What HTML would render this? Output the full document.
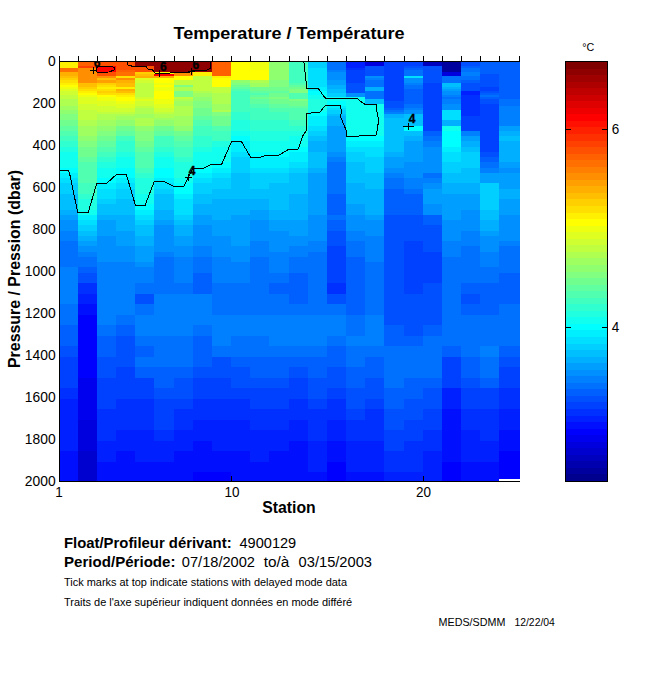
<!DOCTYPE html>
<html><head><meta charset="utf-8"><title>Temperature / Température</title>
<style>
html,body{margin:0;padding:0;background:#fff}
svg{display:block}
text{font-family:"Liberation Sans",sans-serif;fill:#000}
.b{font-weight:bold}
</style></head><body>
<svg width="650" height="680" viewBox="0 0 650 680">
<rect width="650" height="680" fill="#fff"/>
<g shape-rendering="crispEdges">
<rect x="60.0" y="62.00" width="18.0" height="6.10" fill="#ffef00"/>
<rect x="60.0" y="67.80" width="18.0" height="4.50" fill="#ff7000"/>
<rect x="60.0" y="72.00" width="18.0" height="4.50" fill="#ffaf00"/>
<rect x="60.0" y="76.20" width="18.0" height="2.40" fill="#ffbf00"/>
<rect x="60.0" y="78.30" width="18.0" height="2.40" fill="#ffcf00"/>
<rect x="60.0" y="80.40" width="18.0" height="2.40" fill="#ffdf00"/>
<rect x="60.0" y="82.50" width="18.0" height="2.40" fill="#ffef00"/>
<rect x="60.0" y="84.60" width="18.0" height="2.40" fill="#ffff00"/>
<rect x="60.0" y="86.70" width="18.0" height="2.40" fill="#efff10"/>
<rect x="60.0" y="88.80" width="18.0" height="2.40" fill="#dfff20"/>
<rect x="60.0" y="90.90" width="18.0" height="4.50" fill="#cfff30"/>
<rect x="60.0" y="95.10" width="18.0" height="4.50" fill="#bfff40"/>
<rect x="60.0" y="99.30" width="18.0" height="6.60" fill="#afff50"/>
<rect x="60.0" y="105.60" width="18.0" height="4.50" fill="#9fff60"/>
<rect x="60.0" y="109.80" width="18.0" height="4.50" fill="#8fff70"/>
<rect x="60.0" y="114.00" width="18.0" height="6.60" fill="#80ff80"/>
<rect x="60.0" y="120.30" width="18.0" height="5.55" fill="#70ff8f"/>
<rect x="60.0" y="125.55" width="18.0" height="5.55" fill="#60ff9f"/>
<rect x="60.0" y="130.80" width="18.0" height="5.55" fill="#50ffaf"/>
<rect x="60.0" y="136.05" width="18.0" height="5.55" fill="#40ffbf"/>
<rect x="60.0" y="141.30" width="18.0" height="5.55" fill="#30ffcf"/>
<rect x="60.0" y="146.55" width="18.0" height="5.55" fill="#20ffdf"/>
<rect x="60.0" y="151.80" width="18.0" height="16.05" fill="#10ffef"/>
<rect x="60.0" y="167.55" width="18.0" height="5.55" fill="#00ffff"/>
<rect x="60.0" y="172.80" width="18.0" height="5.55" fill="#00efff"/>
<rect x="60.0" y="178.05" width="18.0" height="5.55" fill="#00dfff"/>
<rect x="60.0" y="183.30" width="18.0" height="10.80" fill="#00cfff"/>
<rect x="60.0" y="193.80" width="18.0" height="16.05" fill="#00bfff"/>
<rect x="60.0" y="209.55" width="18.0" height="5.55" fill="#00afff"/>
<rect x="60.0" y="214.80" width="18.0" height="5.55" fill="#009fff"/>
<rect x="60.0" y="220.05" width="18.0" height="10.80" fill="#008fff"/>
<rect x="60.0" y="230.55" width="18.0" height="10.80" fill="#0080ff"/>
<rect x="60.0" y="241.05" width="18.0" height="26.55" fill="#0070ff"/>
<rect x="60.0" y="267.30" width="18.0" height="37.05" fill="#0080ff"/>
<rect x="60.0" y="304.05" width="18.0" height="21.30" fill="#0070ff"/>
<rect x="60.0" y="325.05" width="18.0" height="21.30" fill="#0060ff"/>
<rect x="60.0" y="346.05" width="18.0" height="10.80" fill="#0050ff"/>
<rect x="60.0" y="356.55" width="18.0" height="31.80" fill="#0040ff"/>
<rect x="60.0" y="388.05" width="18.0" height="10.80" fill="#0030ff"/>
<rect x="60.0" y="398.55" width="18.0" height="52.80" fill="#0020ff"/>
<rect x="60.0" y="451.05" width="18.0" height="30.25" fill="#0010ff"/>
<rect x="78.0" y="62.00" width="19.0" height="4.00" fill="#ff6000"/>
<rect x="78.0" y="65.70" width="19.0" height="2.40" fill="#ff4000"/>
<rect x="78.0" y="67.80" width="19.0" height="15.00" fill="#ff8f00"/>
<rect x="78.0" y="82.50" width="19.0" height="4.50" fill="#ffbf00"/>
<rect x="78.0" y="86.70" width="19.0" height="2.40" fill="#ffcf00"/>
<rect x="78.0" y="88.80" width="19.0" height="2.40" fill="#ffdf00"/>
<rect x="78.0" y="90.90" width="19.0" height="2.40" fill="#ffef00"/>
<rect x="78.0" y="93.00" width="19.0" height="2.40" fill="#ffff00"/>
<rect x="78.0" y="95.10" width="19.0" height="2.40" fill="#efff10"/>
<rect x="78.0" y="97.20" width="19.0" height="6.60" fill="#dfff20"/>
<rect x="78.0" y="103.50" width="19.0" height="6.60" fill="#cfff30"/>
<rect x="78.0" y="109.80" width="19.0" height="10.80" fill="#bfff40"/>
<rect x="78.0" y="120.30" width="19.0" height="5.55" fill="#afff50"/>
<rect x="78.0" y="125.55" width="19.0" height="10.80" fill="#9fff60"/>
<rect x="78.0" y="136.05" width="19.0" height="5.55" fill="#8fff70"/>
<rect x="78.0" y="141.30" width="19.0" height="5.55" fill="#80ff80"/>
<rect x="78.0" y="146.55" width="19.0" height="10.80" fill="#70ff8f"/>
<rect x="78.0" y="157.05" width="19.0" height="5.55" fill="#60ff9f"/>
<rect x="78.0" y="162.30" width="19.0" height="21.30" fill="#50ffaf"/>
<rect x="78.0" y="183.30" width="19.0" height="10.80" fill="#40ffbf"/>
<rect x="78.0" y="193.80" width="19.0" height="5.55" fill="#30ffcf"/>
<rect x="78.0" y="199.05" width="19.0" height="10.80" fill="#20ffdf"/>
<rect x="78.0" y="209.55" width="19.0" height="5.55" fill="#10ffef"/>
<rect x="78.0" y="214.80" width="19.0" height="5.55" fill="#00efff"/>
<rect x="78.0" y="220.05" width="19.0" height="5.55" fill="#00dfff"/>
<rect x="78.0" y="225.30" width="19.0" height="5.55" fill="#00cfff"/>
<rect x="78.0" y="230.55" width="19.0" height="5.55" fill="#00bfff"/>
<rect x="78.0" y="235.80" width="19.0" height="5.55" fill="#00afff"/>
<rect x="78.0" y="241.05" width="19.0" height="5.55" fill="#009fff"/>
<rect x="78.0" y="246.30" width="19.0" height="5.55" fill="#008fff"/>
<rect x="78.0" y="251.55" width="19.0" height="5.55" fill="#0080ff"/>
<rect x="78.0" y="256.80" width="19.0" height="10.80" fill="#0070ff"/>
<rect x="78.0" y="267.30" width="19.0" height="5.55" fill="#0060ff"/>
<rect x="78.0" y="272.55" width="19.0" height="10.80" fill="#0050ff"/>
<rect x="78.0" y="283.05" width="19.0" height="10.80" fill="#0030ff"/>
<rect x="78.0" y="293.55" width="19.0" height="10.80" fill="#0020ff"/>
<rect x="78.0" y="304.05" width="19.0" height="10.80" fill="#0010ff"/>
<rect x="78.0" y="314.55" width="19.0" height="63.30" fill="#0000ff"/>
<rect x="78.0" y="377.55" width="19.0" height="42.30" fill="#0000ef"/>
<rect x="78.0" y="419.55" width="19.0" height="31.80" fill="#0000df"/>
<rect x="78.0" y="451.05" width="19.0" height="30.25" fill="#0000cf"/>
<rect x="97.0" y="62.00" width="19.0" height="4.00" fill="#ff5000"/>
<rect x="97.0" y="65.70" width="19.0" height="6.60" fill="#ff0000"/>
<rect x="97.0" y="72.00" width="19.0" height="4.50" fill="#ff5000"/>
<rect x="97.0" y="76.20" width="19.0" height="2.40" fill="#ff8f00"/>
<rect x="97.0" y="78.30" width="19.0" height="2.40" fill="#ffbf00"/>
<rect x="97.0" y="80.40" width="19.0" height="2.40" fill="#ff9f00"/>
<rect x="97.0" y="82.50" width="19.0" height="2.40" fill="#ffcf00"/>
<rect x="97.0" y="84.60" width="19.0" height="2.40" fill="#ffdf00"/>
<rect x="97.0" y="86.70" width="19.0" height="2.40" fill="#ffef00"/>
<rect x="97.0" y="88.80" width="19.0" height="2.40" fill="#ffdf00"/>
<rect x="97.0" y="90.90" width="19.0" height="2.40" fill="#ffcf00"/>
<rect x="97.0" y="93.00" width="19.0" height="2.40" fill="#ffdf00"/>
<rect x="97.0" y="95.10" width="19.0" height="2.40" fill="#ffff00"/>
<rect x="97.0" y="97.20" width="19.0" height="4.50" fill="#efff10"/>
<rect x="97.0" y="101.40" width="19.0" height="4.50" fill="#dfff20"/>
<rect x="97.0" y="105.60" width="19.0" height="6.60" fill="#cfff30"/>
<rect x="97.0" y="111.90" width="19.0" height="2.40" fill="#bfff40"/>
<rect x="97.0" y="114.00" width="19.0" height="6.60" fill="#afff50"/>
<rect x="97.0" y="120.30" width="19.0" height="5.55" fill="#9fff60"/>
<rect x="97.0" y="125.55" width="19.0" height="5.55" fill="#8fff70"/>
<rect x="97.0" y="130.80" width="19.0" height="5.55" fill="#80ff80"/>
<rect x="97.0" y="136.05" width="19.0" height="5.55" fill="#70ff8f"/>
<rect x="97.0" y="141.30" width="19.0" height="5.55" fill="#60ff9f"/>
<rect x="97.0" y="146.55" width="19.0" height="5.55" fill="#50ffaf"/>
<rect x="97.0" y="151.80" width="19.0" height="5.55" fill="#40ffbf"/>
<rect x="97.0" y="157.05" width="19.0" height="5.55" fill="#30ffcf"/>
<rect x="97.0" y="162.30" width="19.0" height="5.55" fill="#20ffdf"/>
<rect x="97.0" y="167.55" width="19.0" height="10.80" fill="#10ffef"/>
<rect x="97.0" y="178.05" width="19.0" height="5.55" fill="#00ffff"/>
<rect x="97.0" y="183.30" width="19.0" height="5.55" fill="#00efff"/>
<rect x="97.0" y="188.55" width="19.0" height="10.80" fill="#00dfff"/>
<rect x="97.0" y="199.05" width="19.0" height="5.55" fill="#00cfff"/>
<rect x="97.0" y="204.30" width="19.0" height="10.80" fill="#00bfff"/>
<rect x="97.0" y="214.80" width="19.0" height="5.55" fill="#00afff"/>
<rect x="97.0" y="220.05" width="19.0" height="16.05" fill="#009fff"/>
<rect x="97.0" y="235.80" width="19.0" height="26.55" fill="#008fff"/>
<rect x="97.0" y="262.05" width="19.0" height="63.30" fill="#0080ff"/>
<rect x="97.0" y="325.05" width="19.0" height="10.80" fill="#0070ff"/>
<rect x="97.0" y="335.55" width="19.0" height="21.30" fill="#0060ff"/>
<rect x="97.0" y="356.55" width="19.0" height="21.30" fill="#0050ff"/>
<rect x="97.0" y="377.55" width="19.0" height="31.80" fill="#0040ff"/>
<rect x="97.0" y="409.05" width="19.0" height="31.80" fill="#0030ff"/>
<rect x="97.0" y="440.55" width="19.0" height="21.30" fill="#0020ff"/>
<rect x="97.0" y="461.55" width="19.0" height="19.75" fill="#0010ff"/>
<rect x="116.0" y="62.00" width="19.0" height="8.20" fill="#ff5000"/>
<rect x="116.0" y="69.90" width="19.0" height="2.40" fill="#ff6000"/>
<rect x="116.0" y="72.00" width="19.0" height="4.50" fill="#ff7000"/>
<rect x="116.0" y="76.20" width="19.0" height="2.40" fill="#ffdf00"/>
<rect x="116.0" y="78.30" width="19.0" height="2.40" fill="#ff8f00"/>
<rect x="116.0" y="80.40" width="19.0" height="2.40" fill="#ffaf00"/>
<rect x="116.0" y="82.50" width="19.0" height="4.50" fill="#ffbf00"/>
<rect x="116.0" y="86.70" width="19.0" height="2.40" fill="#ffef00"/>
<rect x="116.0" y="88.80" width="19.0" height="2.40" fill="#ffaf00"/>
<rect x="116.0" y="90.90" width="19.0" height="2.40" fill="#ffbf00"/>
<rect x="116.0" y="93.00" width="19.0" height="2.40" fill="#ffdf00"/>
<rect x="116.0" y="95.10" width="19.0" height="2.40" fill="#ffef00"/>
<rect x="116.0" y="97.20" width="19.0" height="4.50" fill="#ffff00"/>
<rect x="116.0" y="101.40" width="19.0" height="2.40" fill="#efff10"/>
<rect x="116.0" y="103.50" width="19.0" height="4.50" fill="#dfff20"/>
<rect x="116.0" y="107.70" width="19.0" height="4.50" fill="#cfff30"/>
<rect x="116.0" y="111.90" width="19.0" height="2.40" fill="#bfff40"/>
<rect x="116.0" y="114.00" width="19.0" height="2.40" fill="#afff50"/>
<rect x="116.0" y="116.10" width="19.0" height="4.50" fill="#9fff60"/>
<rect x="116.0" y="120.30" width="19.0" height="5.55" fill="#8fff70"/>
<rect x="116.0" y="125.55" width="19.0" height="5.55" fill="#70ff8f"/>
<rect x="116.0" y="130.80" width="19.0" height="5.55" fill="#60ff9f"/>
<rect x="116.0" y="136.05" width="19.0" height="5.55" fill="#40ffbf"/>
<rect x="116.0" y="141.30" width="19.0" height="10.80" fill="#30ffcf"/>
<rect x="116.0" y="151.80" width="19.0" height="5.55" fill="#20ffdf"/>
<rect x="116.0" y="157.05" width="19.0" height="10.80" fill="#10ffef"/>
<rect x="116.0" y="167.55" width="19.0" height="10.80" fill="#00ffff"/>
<rect x="116.0" y="178.05" width="19.0" height="5.55" fill="#00efff"/>
<rect x="116.0" y="183.30" width="19.0" height="5.55" fill="#00dfff"/>
<rect x="116.0" y="188.55" width="19.0" height="10.80" fill="#00cfff"/>
<rect x="116.0" y="199.05" width="19.0" height="16.05" fill="#00bfff"/>
<rect x="116.0" y="214.80" width="19.0" height="16.05" fill="#00afff"/>
<rect x="116.0" y="230.55" width="19.0" height="16.05" fill="#009fff"/>
<rect x="116.0" y="246.30" width="19.0" height="16.05" fill="#008fff"/>
<rect x="116.0" y="262.05" width="19.0" height="52.80" fill="#0080ff"/>
<rect x="116.0" y="314.55" width="19.0" height="10.80" fill="#0070ff"/>
<rect x="116.0" y="325.05" width="19.0" height="10.80" fill="#0060ff"/>
<rect x="116.0" y="335.55" width="19.0" height="31.80" fill="#0050ff"/>
<rect x="116.0" y="367.05" width="19.0" height="31.80" fill="#0040ff"/>
<rect x="116.0" y="398.55" width="19.0" height="31.80" fill="#0030ff"/>
<rect x="116.0" y="430.05" width="19.0" height="21.30" fill="#0020ff"/>
<rect x="116.0" y="451.05" width="19.0" height="30.25" fill="#0010ff"/>
<rect x="135.0" y="62.00" width="19.0" height="4.00" fill="#8f0000"/>
<rect x="135.0" y="65.70" width="19.0" height="6.60" fill="#ff5000"/>
<rect x="135.0" y="72.00" width="19.0" height="2.40" fill="#ffcf00"/>
<rect x="135.0" y="74.10" width="19.0" height="2.40" fill="#ffbf00"/>
<rect x="135.0" y="76.20" width="19.0" height="2.40" fill="#ffaf00"/>
<rect x="135.0" y="78.30" width="19.0" height="2.40" fill="#dfff20"/>
<rect x="135.0" y="80.40" width="19.0" height="2.40" fill="#cfff30"/>
<rect x="135.0" y="82.50" width="19.0" height="15.00" fill="#bfff40"/>
<rect x="135.0" y="97.20" width="19.0" height="2.40" fill="#cfff30"/>
<rect x="135.0" y="99.30" width="19.0" height="2.40" fill="#dfff20"/>
<rect x="135.0" y="101.40" width="19.0" height="4.50" fill="#cfff30"/>
<rect x="135.0" y="105.60" width="19.0" height="2.40" fill="#bfff40"/>
<rect x="135.0" y="107.70" width="19.0" height="6.60" fill="#afff50"/>
<rect x="135.0" y="114.00" width="19.0" height="4.50" fill="#9fff60"/>
<rect x="135.0" y="118.20" width="19.0" height="7.65" fill="#afff50"/>
<rect x="135.0" y="125.55" width="19.0" height="5.55" fill="#8fff70"/>
<rect x="135.0" y="130.80" width="19.0" height="10.80" fill="#80ff80"/>
<rect x="135.0" y="141.30" width="19.0" height="5.55" fill="#70ff8f"/>
<rect x="135.0" y="146.55" width="19.0" height="5.55" fill="#60ff9f"/>
<rect x="135.0" y="151.80" width="19.0" height="16.05" fill="#50ffaf"/>
<rect x="135.0" y="167.55" width="19.0" height="5.55" fill="#40ffbf"/>
<rect x="135.0" y="172.80" width="19.0" height="5.55" fill="#30ffcf"/>
<rect x="135.0" y="178.05" width="19.0" height="16.05" fill="#20ffdf"/>
<rect x="135.0" y="193.80" width="19.0" height="10.80" fill="#10ffef"/>
<rect x="135.0" y="204.30" width="19.0" height="5.55" fill="#00ffff"/>
<rect x="135.0" y="209.55" width="19.0" height="5.55" fill="#00efff"/>
<rect x="135.0" y="214.80" width="19.0" height="5.55" fill="#00dfff"/>
<rect x="135.0" y="220.05" width="19.0" height="5.55" fill="#00cfff"/>
<rect x="135.0" y="225.30" width="19.0" height="10.80" fill="#00bfff"/>
<rect x="135.0" y="235.80" width="19.0" height="10.80" fill="#00afff"/>
<rect x="135.0" y="246.30" width="19.0" height="16.05" fill="#009fff"/>
<rect x="135.0" y="262.05" width="19.0" height="5.55" fill="#008fff"/>
<rect x="135.0" y="267.30" width="19.0" height="16.05" fill="#0080ff"/>
<rect x="135.0" y="283.05" width="19.0" height="10.80" fill="#0070ff"/>
<rect x="135.0" y="293.55" width="19.0" height="10.80" fill="#0050ff"/>
<rect x="135.0" y="304.05" width="19.0" height="10.80" fill="#0070ff"/>
<rect x="135.0" y="314.55" width="19.0" height="21.30" fill="#0080ff"/>
<rect x="135.0" y="335.55" width="19.0" height="10.80" fill="#0070ff"/>
<rect x="135.0" y="346.05" width="19.0" height="10.80" fill="#0060ff"/>
<rect x="135.0" y="356.55" width="19.0" height="10.80" fill="#0070ff"/>
<rect x="135.0" y="367.05" width="19.0" height="10.80" fill="#0060ff"/>
<rect x="135.0" y="377.55" width="19.0" height="21.30" fill="#0040ff"/>
<rect x="135.0" y="398.55" width="19.0" height="31.80" fill="#0030ff"/>
<rect x="135.0" y="430.05" width="19.0" height="31.80" fill="#0020ff"/>
<rect x="135.0" y="461.55" width="19.0" height="19.75" fill="#0010ff"/>
<rect x="154.0" y="62.00" width="20.0" height="10.30" fill="#8f0000"/>
<rect x="154.0" y="72.00" width="20.0" height="2.40" fill="#ffff00"/>
<rect x="154.0" y="74.10" width="20.0" height="2.40" fill="#ff0000"/>
<rect x="154.0" y="76.20" width="20.0" height="2.40" fill="#ffaf00"/>
<rect x="154.0" y="78.30" width="20.0" height="4.50" fill="#ffff00"/>
<rect x="154.0" y="82.50" width="20.0" height="2.40" fill="#efff10"/>
<rect x="154.0" y="84.60" width="20.0" height="2.40" fill="#ffff00"/>
<rect x="154.0" y="86.70" width="20.0" height="4.50" fill="#efff10"/>
<rect x="154.0" y="90.90" width="20.0" height="8.70" fill="#ffff00"/>
<rect x="154.0" y="99.30" width="20.0" height="4.50" fill="#efff10"/>
<rect x="154.0" y="103.50" width="20.0" height="4.50" fill="#dfff20"/>
<rect x="154.0" y="107.70" width="20.0" height="4.50" fill="#cfff30"/>
<rect x="154.0" y="111.90" width="20.0" height="2.40" fill="#bfff40"/>
<rect x="154.0" y="114.00" width="20.0" height="4.50" fill="#afff50"/>
<rect x="154.0" y="118.20" width="20.0" height="2.40" fill="#9fff60"/>
<rect x="154.0" y="120.30" width="20.0" height="5.55" fill="#8fff70"/>
<rect x="154.0" y="125.55" width="20.0" height="5.55" fill="#70ff8f"/>
<rect x="154.0" y="130.80" width="20.0" height="5.55" fill="#60ff9f"/>
<rect x="154.0" y="136.05" width="20.0" height="10.80" fill="#40ffbf"/>
<rect x="154.0" y="146.55" width="20.0" height="5.55" fill="#30ffcf"/>
<rect x="154.0" y="151.80" width="20.0" height="5.55" fill="#20ffdf"/>
<rect x="154.0" y="157.05" width="20.0" height="10.80" fill="#10ffef"/>
<rect x="154.0" y="167.55" width="20.0" height="10.80" fill="#00ffff"/>
<rect x="154.0" y="178.05" width="20.0" height="5.55" fill="#00efff"/>
<rect x="154.0" y="183.30" width="20.0" height="5.55" fill="#00dfff"/>
<rect x="154.0" y="188.55" width="20.0" height="5.55" fill="#00cfff"/>
<rect x="154.0" y="193.80" width="20.0" height="16.05" fill="#00bfff"/>
<rect x="154.0" y="209.55" width="20.0" height="10.80" fill="#00afff"/>
<rect x="154.0" y="220.05" width="20.0" height="5.55" fill="#009fff"/>
<rect x="154.0" y="225.30" width="20.0" height="26.55" fill="#008fff"/>
<rect x="154.0" y="251.55" width="20.0" height="5.55" fill="#0080ff"/>
<rect x="154.0" y="256.80" width="20.0" height="37.05" fill="#0070ff"/>
<rect x="154.0" y="293.55" width="20.0" height="42.30" fill="#0080ff"/>
<rect x="154.0" y="335.55" width="20.0" height="31.80" fill="#0070ff"/>
<rect x="154.0" y="367.05" width="20.0" height="21.30" fill="#0060ff"/>
<rect x="154.0" y="388.05" width="20.0" height="10.80" fill="#0050ff"/>
<rect x="154.0" y="398.55" width="20.0" height="31.80" fill="#0040ff"/>
<rect x="154.0" y="430.05" width="20.0" height="10.80" fill="#0030ff"/>
<rect x="154.0" y="440.55" width="20.0" height="21.30" fill="#0020ff"/>
<rect x="154.0" y="461.55" width="20.0" height="19.75" fill="#0010ff"/>
<rect x="174.0" y="62.00" width="19.0" height="10.30" fill="#8f0000"/>
<rect x="174.0" y="72.00" width="19.0" height="4.50" fill="#ff8f00"/>
<rect x="174.0" y="76.20" width="19.0" height="4.50" fill="#ffff00"/>
<rect x="174.0" y="80.40" width="19.0" height="4.50" fill="#bfff40"/>
<rect x="174.0" y="84.60" width="19.0" height="2.40" fill="#80ff80"/>
<rect x="174.0" y="86.70" width="19.0" height="4.50" fill="#afff50"/>
<rect x="174.0" y="90.90" width="19.0" height="6.60" fill="#80ff80"/>
<rect x="174.0" y="97.20" width="19.0" height="2.40" fill="#bfff40"/>
<rect x="174.0" y="99.30" width="19.0" height="2.40" fill="#afff50"/>
<rect x="174.0" y="101.40" width="19.0" height="4.50" fill="#9fff60"/>
<rect x="174.0" y="105.60" width="19.0" height="10.80" fill="#afff50"/>
<rect x="174.0" y="116.10" width="19.0" height="9.75" fill="#9fff60"/>
<rect x="174.0" y="125.55" width="19.0" height="5.55" fill="#8fff70"/>
<rect x="174.0" y="130.80" width="19.0" height="5.55" fill="#70ff8f"/>
<rect x="174.0" y="136.05" width="19.0" height="5.55" fill="#60ff9f"/>
<rect x="174.0" y="141.30" width="19.0" height="5.55" fill="#50ffaf"/>
<rect x="174.0" y="146.55" width="19.0" height="10.80" fill="#40ffbf"/>
<rect x="174.0" y="157.05" width="19.0" height="5.55" fill="#30ffcf"/>
<rect x="174.0" y="162.30" width="19.0" height="16.05" fill="#20ffdf"/>
<rect x="174.0" y="178.05" width="19.0" height="5.55" fill="#10ffef"/>
<rect x="174.0" y="183.30" width="19.0" height="10.80" fill="#00ffff"/>
<rect x="174.0" y="193.80" width="19.0" height="5.55" fill="#00efff"/>
<rect x="174.0" y="199.05" width="19.0" height="16.05" fill="#00dfff"/>
<rect x="174.0" y="214.80" width="19.0" height="5.55" fill="#00cfff"/>
<rect x="174.0" y="220.05" width="19.0" height="5.55" fill="#00bfff"/>
<rect x="174.0" y="225.30" width="19.0" height="10.80" fill="#00afff"/>
<rect x="174.0" y="235.80" width="19.0" height="10.80" fill="#009fff"/>
<rect x="174.0" y="246.30" width="19.0" height="10.80" fill="#008fff"/>
<rect x="174.0" y="256.80" width="19.0" height="26.55" fill="#0080ff"/>
<rect x="174.0" y="283.05" width="19.0" height="10.80" fill="#0070ff"/>
<rect x="174.0" y="293.55" width="19.0" height="42.30" fill="#0080ff"/>
<rect x="174.0" y="335.55" width="19.0" height="31.80" fill="#0070ff"/>
<rect x="174.0" y="367.05" width="19.0" height="10.80" fill="#0060ff"/>
<rect x="174.0" y="377.55" width="19.0" height="21.30" fill="#0050ff"/>
<rect x="174.0" y="398.55" width="19.0" height="10.80" fill="#0040ff"/>
<rect x="174.0" y="409.05" width="19.0" height="21.30" fill="#0030ff"/>
<rect x="174.0" y="430.05" width="19.0" height="21.30" fill="#0020ff"/>
<rect x="174.0" y="451.05" width="19.0" height="30.25" fill="#0010ff"/>
<rect x="193.0" y="62.00" width="19.0" height="10.30" fill="#8f0000"/>
<rect x="193.0" y="72.00" width="19.0" height="4.50" fill="#ffef00"/>
<rect x="193.0" y="76.20" width="19.0" height="15.00" fill="#bfff40"/>
<rect x="193.0" y="90.90" width="19.0" height="2.40" fill="#afff50"/>
<rect x="193.0" y="93.00" width="19.0" height="4.50" fill="#9fff60"/>
<rect x="193.0" y="97.20" width="19.0" height="4.50" fill="#8fff70"/>
<rect x="193.0" y="101.40" width="19.0" height="6.60" fill="#80ff80"/>
<rect x="193.0" y="107.70" width="19.0" height="8.70" fill="#70ff8f"/>
<rect x="193.0" y="116.10" width="19.0" height="4.50" fill="#60ff9f"/>
<rect x="193.0" y="120.30" width="19.0" height="5.55" fill="#50ffaf"/>
<rect x="193.0" y="125.55" width="19.0" height="10.80" fill="#40ffbf"/>
<rect x="193.0" y="136.05" width="19.0" height="10.80" fill="#30ffcf"/>
<rect x="193.0" y="146.55" width="19.0" height="5.55" fill="#20ffdf"/>
<rect x="193.0" y="151.80" width="19.0" height="16.05" fill="#10ffef"/>
<rect x="193.0" y="167.55" width="19.0" height="5.55" fill="#00ffff"/>
<rect x="193.0" y="172.80" width="19.0" height="5.55" fill="#00efff"/>
<rect x="193.0" y="178.05" width="19.0" height="5.55" fill="#00dfff"/>
<rect x="193.0" y="183.30" width="19.0" height="10.80" fill="#00cfff"/>
<rect x="193.0" y="193.80" width="19.0" height="10.80" fill="#00bfff"/>
<rect x="193.0" y="204.30" width="19.0" height="10.80" fill="#00afff"/>
<rect x="193.0" y="214.80" width="19.0" height="10.80" fill="#009fff"/>
<rect x="193.0" y="225.30" width="19.0" height="21.30" fill="#008fff"/>
<rect x="193.0" y="246.30" width="19.0" height="10.80" fill="#0080ff"/>
<rect x="193.0" y="256.80" width="19.0" height="16.05" fill="#0070ff"/>
<rect x="193.0" y="272.55" width="19.0" height="21.30" fill="#0060ff"/>
<rect x="193.0" y="293.55" width="19.0" height="31.80" fill="#0080ff"/>
<rect x="193.0" y="325.05" width="19.0" height="10.80" fill="#0070ff"/>
<rect x="193.0" y="335.55" width="19.0" height="31.80" fill="#0060ff"/>
<rect x="193.0" y="367.05" width="19.0" height="10.80" fill="#0050ff"/>
<rect x="193.0" y="377.55" width="19.0" height="21.30" fill="#0040ff"/>
<rect x="193.0" y="398.55" width="19.0" height="21.30" fill="#0030ff"/>
<rect x="193.0" y="419.55" width="19.0" height="21.30" fill="#0020ff"/>
<rect x="193.0" y="440.55" width="19.0" height="31.80" fill="#0010ff"/>
<rect x="193.0" y="472.05" width="19.0" height="9.25" fill="#0000ff"/>
<rect x="212.0" y="62.00" width="19.0" height="14.50" fill="#ff6000"/>
<rect x="212.0" y="76.20" width="19.0" height="2.40" fill="#ffef00"/>
<rect x="212.0" y="78.30" width="19.0" height="8.70" fill="#ffff00"/>
<rect x="212.0" y="86.70" width="19.0" height="6.60" fill="#bfff40"/>
<rect x="212.0" y="93.00" width="19.0" height="10.80" fill="#afff50"/>
<rect x="212.0" y="103.50" width="19.0" height="6.60" fill="#9fff60"/>
<rect x="212.0" y="109.80" width="19.0" height="2.40" fill="#afff50"/>
<rect x="212.0" y="111.90" width="19.0" height="4.50" fill="#80ff80"/>
<rect x="212.0" y="116.10" width="19.0" height="9.75" fill="#70ff8f"/>
<rect x="212.0" y="125.55" width="19.0" height="5.55" fill="#50ffaf"/>
<rect x="212.0" y="130.80" width="19.0" height="10.80" fill="#40ffbf"/>
<rect x="212.0" y="141.30" width="19.0" height="5.55" fill="#20ffdf"/>
<rect x="212.0" y="146.55" width="19.0" height="16.05" fill="#10ffef"/>
<rect x="212.0" y="162.30" width="19.0" height="5.55" fill="#00ffff"/>
<rect x="212.0" y="167.55" width="19.0" height="5.55" fill="#00efff"/>
<rect x="212.0" y="172.80" width="19.0" height="5.55" fill="#00dfff"/>
<rect x="212.0" y="178.05" width="19.0" height="10.80" fill="#00cfff"/>
<rect x="212.0" y="188.55" width="19.0" height="10.80" fill="#00bfff"/>
<rect x="212.0" y="199.05" width="19.0" height="21.30" fill="#00afff"/>
<rect x="212.0" y="220.05" width="19.0" height="16.05" fill="#009fff"/>
<rect x="212.0" y="235.80" width="19.0" height="21.30" fill="#008fff"/>
<rect x="212.0" y="256.80" width="19.0" height="26.55" fill="#0080ff"/>
<rect x="212.0" y="283.05" width="19.0" height="31.80" fill="#0070ff"/>
<rect x="212.0" y="314.55" width="19.0" height="31.80" fill="#0080ff"/>
<rect x="212.0" y="346.05" width="19.0" height="10.80" fill="#0070ff"/>
<rect x="212.0" y="356.55" width="19.0" height="21.30" fill="#0050ff"/>
<rect x="212.0" y="377.55" width="19.0" height="21.30" fill="#0040ff"/>
<rect x="212.0" y="398.55" width="19.0" height="21.30" fill="#0030ff"/>
<rect x="212.0" y="419.55" width="19.0" height="31.80" fill="#0020ff"/>
<rect x="212.0" y="451.05" width="19.0" height="21.30" fill="#0010ff"/>
<rect x="212.0" y="472.05" width="19.0" height="9.25" fill="#0000ff"/>
<rect x="231.0" y="62.00" width="19.0" height="18.70" fill="#ffff00"/>
<rect x="231.0" y="80.40" width="19.0" height="2.40" fill="#8fff70"/>
<rect x="231.0" y="82.50" width="19.0" height="2.40" fill="#80ff80"/>
<rect x="231.0" y="84.60" width="19.0" height="2.40" fill="#70ff8f"/>
<rect x="231.0" y="86.70" width="19.0" height="2.40" fill="#60ff9f"/>
<rect x="231.0" y="88.80" width="19.0" height="2.40" fill="#50ffaf"/>
<rect x="231.0" y="90.90" width="19.0" height="21.30" fill="#40ffbf"/>
<rect x="231.0" y="111.90" width="19.0" height="8.70" fill="#30ffcf"/>
<rect x="231.0" y="120.30" width="19.0" height="10.80" fill="#20ffdf"/>
<rect x="231.0" y="130.80" width="19.0" height="5.55" fill="#10ffef"/>
<rect x="231.0" y="136.05" width="19.0" height="5.55" fill="#00ffff"/>
<rect x="231.0" y="141.30" width="19.0" height="10.80" fill="#00efff"/>
<rect x="231.0" y="151.80" width="19.0" height="5.55" fill="#00dfff"/>
<rect x="231.0" y="157.05" width="19.0" height="16.05" fill="#00cfff"/>
<rect x="231.0" y="172.80" width="19.0" height="26.55" fill="#00bfff"/>
<rect x="231.0" y="199.05" width="19.0" height="16.05" fill="#00afff"/>
<rect x="231.0" y="214.80" width="19.0" height="31.80" fill="#009fff"/>
<rect x="231.0" y="246.30" width="19.0" height="16.05" fill="#008fff"/>
<rect x="231.0" y="262.05" width="19.0" height="21.30" fill="#0080ff"/>
<rect x="231.0" y="283.05" width="19.0" height="31.80" fill="#0070ff"/>
<rect x="231.0" y="314.55" width="19.0" height="21.30" fill="#0080ff"/>
<rect x="231.0" y="335.55" width="19.0" height="21.30" fill="#0070ff"/>
<rect x="231.0" y="356.55" width="19.0" height="10.80" fill="#0060ff"/>
<rect x="231.0" y="367.05" width="19.0" height="21.30" fill="#0050ff"/>
<rect x="231.0" y="388.05" width="19.0" height="10.80" fill="#0040ff"/>
<rect x="231.0" y="398.55" width="19.0" height="21.30" fill="#0030ff"/>
<rect x="231.0" y="419.55" width="19.0" height="31.80" fill="#0020ff"/>
<rect x="231.0" y="451.05" width="19.0" height="30.25" fill="#0010ff"/>
<rect x="250.0" y="62.00" width="19.0" height="8.20" fill="#efff10"/>
<rect x="250.0" y="69.90" width="19.0" height="10.80" fill="#ffff00"/>
<rect x="250.0" y="80.40" width="19.0" height="2.40" fill="#afff50"/>
<rect x="250.0" y="82.50" width="19.0" height="4.50" fill="#9fff60"/>
<rect x="250.0" y="86.70" width="19.0" height="4.50" fill="#70ff8f"/>
<rect x="250.0" y="90.90" width="19.0" height="2.40" fill="#60ff9f"/>
<rect x="250.0" y="93.00" width="19.0" height="2.40" fill="#50ffaf"/>
<rect x="250.0" y="95.10" width="19.0" height="2.40" fill="#60ff9f"/>
<rect x="250.0" y="97.20" width="19.0" height="2.40" fill="#70ff8f"/>
<rect x="250.0" y="99.30" width="19.0" height="4.50" fill="#60ff9f"/>
<rect x="250.0" y="103.50" width="19.0" height="4.50" fill="#50ffaf"/>
<rect x="250.0" y="107.70" width="19.0" height="12.90" fill="#40ffbf"/>
<rect x="250.0" y="120.30" width="19.0" height="10.80" fill="#30ffcf"/>
<rect x="250.0" y="130.80" width="19.0" height="10.80" fill="#20ffdf"/>
<rect x="250.0" y="141.30" width="19.0" height="10.80" fill="#10ffef"/>
<rect x="250.0" y="151.80" width="19.0" height="5.55" fill="#00ffff"/>
<rect x="250.0" y="157.05" width="19.0" height="10.80" fill="#00efff"/>
<rect x="250.0" y="167.55" width="19.0" height="5.55" fill="#00dfff"/>
<rect x="250.0" y="172.80" width="19.0" height="16.05" fill="#00cfff"/>
<rect x="250.0" y="188.55" width="19.0" height="10.80" fill="#00bfff"/>
<rect x="250.0" y="199.05" width="19.0" height="10.80" fill="#00afff"/>
<rect x="250.0" y="209.55" width="19.0" height="10.80" fill="#009fff"/>
<rect x="250.0" y="220.05" width="19.0" height="21.30" fill="#008fff"/>
<rect x="250.0" y="241.05" width="19.0" height="16.05" fill="#0080ff"/>
<rect x="250.0" y="256.80" width="19.0" height="58.05" fill="#0070ff"/>
<rect x="250.0" y="314.55" width="19.0" height="21.30" fill="#0080ff"/>
<rect x="250.0" y="335.55" width="19.0" height="21.30" fill="#0070ff"/>
<rect x="250.0" y="356.55" width="19.0" height="21.30" fill="#0060ff"/>
<rect x="250.0" y="377.55" width="19.0" height="10.80" fill="#0050ff"/>
<rect x="250.0" y="388.05" width="19.0" height="21.30" fill="#0040ff"/>
<rect x="250.0" y="409.05" width="19.0" height="21.30" fill="#0030ff"/>
<rect x="250.0" y="430.05" width="19.0" height="31.80" fill="#0020ff"/>
<rect x="250.0" y="461.55" width="19.0" height="19.75" fill="#0010ff"/>
<rect x="269.0" y="62.00" width="20.0" height="18.70" fill="#8fff70"/>
<rect x="269.0" y="80.40" width="20.0" height="6.60" fill="#80ff80"/>
<rect x="269.0" y="86.70" width="20.0" height="4.50" fill="#70ff8f"/>
<rect x="269.0" y="90.90" width="20.0" height="2.40" fill="#60ff9f"/>
<rect x="269.0" y="93.00" width="20.0" height="4.50" fill="#70ff8f"/>
<rect x="269.0" y="97.20" width="20.0" height="2.40" fill="#80ff80"/>
<rect x="269.0" y="99.30" width="20.0" height="4.50" fill="#70ff8f"/>
<rect x="269.0" y="103.50" width="20.0" height="4.50" fill="#60ff9f"/>
<rect x="269.0" y="107.70" width="20.0" height="4.50" fill="#50ffaf"/>
<rect x="269.0" y="111.90" width="20.0" height="8.70" fill="#40ffbf"/>
<rect x="269.0" y="120.30" width="20.0" height="10.80" fill="#30ffcf"/>
<rect x="269.0" y="130.80" width="20.0" height="10.80" fill="#20ffdf"/>
<rect x="269.0" y="141.30" width="20.0" height="10.80" fill="#10ffef"/>
<rect x="269.0" y="151.80" width="20.0" height="5.55" fill="#00ffff"/>
<rect x="269.0" y="157.05" width="20.0" height="10.80" fill="#00efff"/>
<rect x="269.0" y="167.55" width="20.0" height="5.55" fill="#00dfff"/>
<rect x="269.0" y="172.80" width="20.0" height="10.80" fill="#00cfff"/>
<rect x="269.0" y="183.30" width="20.0" height="26.55" fill="#00bfff"/>
<rect x="269.0" y="209.55" width="20.0" height="10.80" fill="#00afff"/>
<rect x="269.0" y="220.05" width="20.0" height="10.80" fill="#009fff"/>
<rect x="269.0" y="230.55" width="20.0" height="21.30" fill="#008fff"/>
<rect x="269.0" y="251.55" width="20.0" height="21.30" fill="#0080ff"/>
<rect x="269.0" y="272.55" width="20.0" height="10.80" fill="#0070ff"/>
<rect x="269.0" y="283.05" width="20.0" height="10.80" fill="#0060ff"/>
<rect x="269.0" y="293.55" width="20.0" height="21.30" fill="#0070ff"/>
<rect x="269.0" y="314.55" width="20.0" height="31.80" fill="#0080ff"/>
<rect x="269.0" y="346.05" width="20.0" height="10.80" fill="#0070ff"/>
<rect x="269.0" y="356.55" width="20.0" height="21.30" fill="#0060ff"/>
<rect x="269.0" y="377.55" width="20.0" height="10.80" fill="#0050ff"/>
<rect x="269.0" y="388.05" width="20.0" height="21.30" fill="#0040ff"/>
<rect x="269.0" y="409.05" width="20.0" height="21.30" fill="#0030ff"/>
<rect x="269.0" y="430.05" width="20.0" height="21.30" fill="#0020ff"/>
<rect x="269.0" y="451.05" width="20.0" height="30.25" fill="#0010ff"/>
<rect x="289.0" y="62.00" width="19.0" height="20.80" fill="#40ffbf"/>
<rect x="289.0" y="82.50" width="19.0" height="2.40" fill="#50ffaf"/>
<rect x="289.0" y="84.60" width="19.0" height="2.40" fill="#60ff9f"/>
<rect x="289.0" y="86.70" width="19.0" height="2.40" fill="#70ff8f"/>
<rect x="289.0" y="88.80" width="19.0" height="4.50" fill="#80ff80"/>
<rect x="289.0" y="93.00" width="19.0" height="6.60" fill="#50ffaf"/>
<rect x="289.0" y="99.30" width="19.0" height="2.40" fill="#80ff80"/>
<rect x="289.0" y="101.40" width="19.0" height="4.50" fill="#70ff8f"/>
<rect x="289.0" y="105.60" width="19.0" height="2.40" fill="#60ff9f"/>
<rect x="289.0" y="107.70" width="19.0" height="12.90" fill="#50ffaf"/>
<rect x="289.0" y="120.30" width="19.0" height="5.55" fill="#40ffbf"/>
<rect x="289.0" y="125.55" width="19.0" height="5.55" fill="#30ffcf"/>
<rect x="289.0" y="130.80" width="19.0" height="5.55" fill="#20ffdf"/>
<rect x="289.0" y="136.05" width="19.0" height="10.80" fill="#10ffef"/>
<rect x="289.0" y="146.55" width="19.0" height="5.55" fill="#00ffff"/>
<rect x="289.0" y="151.80" width="19.0" height="10.80" fill="#00efff"/>
<rect x="289.0" y="162.30" width="19.0" height="5.55" fill="#00dfff"/>
<rect x="289.0" y="167.55" width="19.0" height="5.55" fill="#00cfff"/>
<rect x="289.0" y="172.80" width="19.0" height="21.30" fill="#00bfff"/>
<rect x="289.0" y="193.80" width="19.0" height="26.55" fill="#00afff"/>
<rect x="289.0" y="220.05" width="19.0" height="16.05" fill="#009fff"/>
<rect x="289.0" y="235.80" width="19.0" height="10.80" fill="#008fff"/>
<rect x="289.0" y="246.30" width="19.0" height="10.80" fill="#0080ff"/>
<rect x="289.0" y="256.80" width="19.0" height="16.05" fill="#0070ff"/>
<rect x="289.0" y="272.55" width="19.0" height="31.80" fill="#0060ff"/>
<rect x="289.0" y="304.05" width="19.0" height="10.80" fill="#0070ff"/>
<rect x="289.0" y="314.55" width="19.0" height="31.80" fill="#0080ff"/>
<rect x="289.0" y="346.05" width="19.0" height="10.80" fill="#0070ff"/>
<rect x="289.0" y="356.55" width="19.0" height="10.80" fill="#0060ff"/>
<rect x="289.0" y="367.05" width="19.0" height="10.80" fill="#0050ff"/>
<rect x="289.0" y="377.55" width="19.0" height="21.30" fill="#0040ff"/>
<rect x="289.0" y="398.55" width="19.0" height="21.30" fill="#0030ff"/>
<rect x="289.0" y="419.55" width="19.0" height="21.30" fill="#0020ff"/>
<rect x="289.0" y="440.55" width="19.0" height="40.75" fill="#0010ff"/>
<rect x="308.0" y="62.00" width="19.0" height="6.10" fill="#00cfff"/>
<rect x="308.0" y="67.80" width="19.0" height="19.20" fill="#00dfff"/>
<rect x="308.0" y="86.70" width="19.0" height="4.50" fill="#00efff"/>
<rect x="308.0" y="90.90" width="19.0" height="4.50" fill="#00ffff"/>
<rect x="308.0" y="95.10" width="19.0" height="4.50" fill="#10ffef"/>
<rect x="308.0" y="99.30" width="19.0" height="10.80" fill="#20ffdf"/>
<rect x="308.0" y="109.80" width="19.0" height="2.40" fill="#10ffef"/>
<rect x="308.0" y="111.90" width="19.0" height="4.50" fill="#00ffff"/>
<rect x="308.0" y="116.10" width="19.0" height="9.75" fill="#00efff"/>
<rect x="308.0" y="125.55" width="19.0" height="5.55" fill="#00dfff"/>
<rect x="308.0" y="130.80" width="19.0" height="5.55" fill="#00cfff"/>
<rect x="308.0" y="136.05" width="19.0" height="5.55" fill="#00bfff"/>
<rect x="308.0" y="141.30" width="19.0" height="10.80" fill="#00afff"/>
<rect x="308.0" y="151.80" width="19.0" height="16.05" fill="#00bfff"/>
<rect x="308.0" y="167.55" width="19.0" height="5.55" fill="#00afff"/>
<rect x="308.0" y="172.80" width="19.0" height="42.30" fill="#009fff"/>
<rect x="308.0" y="214.80" width="19.0" height="26.55" fill="#008fff"/>
<rect x="308.0" y="241.05" width="19.0" height="10.80" fill="#0080ff"/>
<rect x="308.0" y="251.55" width="19.0" height="63.30" fill="#0070ff"/>
<rect x="308.0" y="314.55" width="19.0" height="31.80" fill="#0080ff"/>
<rect x="308.0" y="346.05" width="19.0" height="10.80" fill="#0070ff"/>
<rect x="308.0" y="356.55" width="19.0" height="21.30" fill="#0060ff"/>
<rect x="308.0" y="377.55" width="19.0" height="21.30" fill="#0050ff"/>
<rect x="308.0" y="398.55" width="19.0" height="10.80" fill="#0040ff"/>
<rect x="308.0" y="409.05" width="19.0" height="31.80" fill="#0030ff"/>
<rect x="308.0" y="440.55" width="19.0" height="31.80" fill="#0020ff"/>
<rect x="308.0" y="472.05" width="19.0" height="9.25" fill="#0010ff"/>
<rect x="327.0" y="62.00" width="19.0" height="8.20" fill="#0070ff"/>
<rect x="327.0" y="69.90" width="19.0" height="2.40" fill="#0080ff"/>
<rect x="327.0" y="72.00" width="19.0" height="8.70" fill="#008fff"/>
<rect x="327.0" y="80.40" width="19.0" height="4.50" fill="#009fff"/>
<rect x="327.0" y="84.60" width="19.0" height="4.50" fill="#00afff"/>
<rect x="327.0" y="88.80" width="19.0" height="4.50" fill="#00bfff"/>
<rect x="327.0" y="93.00" width="19.0" height="4.50" fill="#00cfff"/>
<rect x="327.0" y="97.20" width="19.0" height="4.50" fill="#10ffef"/>
<rect x="327.0" y="101.40" width="19.0" height="4.50" fill="#00ffff"/>
<rect x="327.0" y="105.60" width="19.0" height="2.40" fill="#00efff"/>
<rect x="327.0" y="107.70" width="19.0" height="2.40" fill="#00dfff"/>
<rect x="327.0" y="109.80" width="19.0" height="4.50" fill="#00cfff"/>
<rect x="327.0" y="114.00" width="19.0" height="2.40" fill="#00bfff"/>
<rect x="327.0" y="116.10" width="19.0" height="9.75" fill="#00afff"/>
<rect x="327.0" y="125.55" width="19.0" height="26.55" fill="#009fff"/>
<rect x="327.0" y="151.80" width="19.0" height="5.55" fill="#008fff"/>
<rect x="327.0" y="157.05" width="19.0" height="5.55" fill="#0080ff"/>
<rect x="327.0" y="162.30" width="19.0" height="31.80" fill="#0070ff"/>
<rect x="327.0" y="193.80" width="19.0" height="21.30" fill="#0060ff"/>
<rect x="327.0" y="214.80" width="19.0" height="5.55" fill="#0070ff"/>
<rect x="327.0" y="220.05" width="19.0" height="10.80" fill="#0060ff"/>
<rect x="327.0" y="230.55" width="19.0" height="16.05" fill="#0050ff"/>
<rect x="327.0" y="246.30" width="19.0" height="37.05" fill="#0040ff"/>
<rect x="327.0" y="283.05" width="19.0" height="10.80" fill="#0030ff"/>
<rect x="327.0" y="293.55" width="19.0" height="10.80" fill="#0050ff"/>
<rect x="327.0" y="304.05" width="19.0" height="10.80" fill="#0070ff"/>
<rect x="327.0" y="314.55" width="19.0" height="21.30" fill="#0080ff"/>
<rect x="327.0" y="335.55" width="19.0" height="10.80" fill="#0070ff"/>
<rect x="327.0" y="346.05" width="19.0" height="21.30" fill="#0060ff"/>
<rect x="327.0" y="367.05" width="19.0" height="21.30" fill="#0050ff"/>
<rect x="327.0" y="388.05" width="19.0" height="10.80" fill="#0040ff"/>
<rect x="327.0" y="398.55" width="19.0" height="21.30" fill="#0030ff"/>
<rect x="327.0" y="419.55" width="19.0" height="21.30" fill="#0020ff"/>
<rect x="327.0" y="440.55" width="19.0" height="21.30" fill="#0010ff"/>
<rect x="327.0" y="461.55" width="19.0" height="19.75" fill="#0000ff"/>
<rect x="346.0" y="62.00" width="19.0" height="6.10" fill="#0020ff"/>
<rect x="346.0" y="67.80" width="19.0" height="2.40" fill="#0030ff"/>
<rect x="346.0" y="69.90" width="19.0" height="12.90" fill="#0040ff"/>
<rect x="346.0" y="82.50" width="19.0" height="10.80" fill="#0050ff"/>
<rect x="346.0" y="93.00" width="19.0" height="4.50" fill="#008fff"/>
<rect x="346.0" y="97.20" width="19.0" height="39.15" fill="#10ffef"/>
<rect x="346.0" y="136.05" width="19.0" height="5.55" fill="#00ffff"/>
<rect x="346.0" y="141.30" width="19.0" height="5.55" fill="#00efff"/>
<rect x="346.0" y="146.55" width="19.0" height="5.55" fill="#00dfff"/>
<rect x="346.0" y="151.80" width="19.0" height="10.80" fill="#00cfff"/>
<rect x="346.0" y="162.30" width="19.0" height="21.30" fill="#00bfff"/>
<rect x="346.0" y="183.30" width="19.0" height="21.30" fill="#00afff"/>
<rect x="346.0" y="204.30" width="19.0" height="10.80" fill="#009fff"/>
<rect x="346.0" y="214.80" width="19.0" height="16.05" fill="#008fff"/>
<rect x="346.0" y="230.55" width="19.0" height="10.80" fill="#0080ff"/>
<rect x="346.0" y="241.05" width="19.0" height="16.05" fill="#0070ff"/>
<rect x="346.0" y="256.80" width="19.0" height="58.05" fill="#0060ff"/>
<rect x="346.0" y="314.55" width="19.0" height="21.30" fill="#0070ff"/>
<rect x="346.0" y="335.55" width="19.0" height="10.80" fill="#0080ff"/>
<rect x="346.0" y="346.05" width="19.0" height="21.30" fill="#0070ff"/>
<rect x="346.0" y="367.05" width="19.0" height="21.30" fill="#0060ff"/>
<rect x="346.0" y="388.05" width="19.0" height="21.30" fill="#0050ff"/>
<rect x="346.0" y="409.05" width="19.0" height="10.80" fill="#0040ff"/>
<rect x="346.0" y="419.55" width="19.0" height="21.30" fill="#0030ff"/>
<rect x="346.0" y="440.55" width="19.0" height="31.80" fill="#0020ff"/>
<rect x="346.0" y="472.05" width="19.0" height="9.25" fill="#0010ff"/>
<rect x="365.0" y="62.00" width="19.0" height="4.00" fill="#0000df"/>
<rect x="365.0" y="65.70" width="19.0" height="10.80" fill="#0050ff"/>
<rect x="365.0" y="76.20" width="19.0" height="2.40" fill="#008fff"/>
<rect x="365.0" y="78.30" width="19.0" height="2.40" fill="#0080ff"/>
<rect x="365.0" y="80.40" width="19.0" height="6.60" fill="#0070ff"/>
<rect x="365.0" y="86.70" width="19.0" height="4.50" fill="#00afff"/>
<rect x="365.0" y="90.90" width="19.0" height="8.70" fill="#0070ff"/>
<rect x="365.0" y="99.30" width="19.0" height="4.50" fill="#00bfff"/>
<rect x="365.0" y="103.50" width="19.0" height="32.85" fill="#10ffef"/>
<rect x="365.0" y="136.05" width="19.0" height="5.55" fill="#00ffff"/>
<rect x="365.0" y="141.30" width="19.0" height="5.55" fill="#00efff"/>
<rect x="365.0" y="146.55" width="19.0" height="10.80" fill="#00dfff"/>
<rect x="365.0" y="157.05" width="19.0" height="16.05" fill="#00cfff"/>
<rect x="365.0" y="172.80" width="19.0" height="16.05" fill="#00bfff"/>
<rect x="365.0" y="188.55" width="19.0" height="26.55" fill="#00afff"/>
<rect x="365.0" y="214.80" width="19.0" height="5.55" fill="#009fff"/>
<rect x="365.0" y="220.05" width="19.0" height="16.05" fill="#008fff"/>
<rect x="365.0" y="235.80" width="19.0" height="26.55" fill="#0080ff"/>
<rect x="365.0" y="262.05" width="19.0" height="52.80" fill="#0070ff"/>
<rect x="365.0" y="314.55" width="19.0" height="31.80" fill="#0080ff"/>
<rect x="365.0" y="346.05" width="19.0" height="10.80" fill="#0070ff"/>
<rect x="365.0" y="356.55" width="19.0" height="21.30" fill="#0060ff"/>
<rect x="365.0" y="377.55" width="19.0" height="21.30" fill="#0050ff"/>
<rect x="365.0" y="398.55" width="19.0" height="10.80" fill="#0040ff"/>
<rect x="365.0" y="409.05" width="19.0" height="31.80" fill="#0030ff"/>
<rect x="365.0" y="440.55" width="19.0" height="31.80" fill="#0020ff"/>
<rect x="365.0" y="472.05" width="19.0" height="9.25" fill="#0010ff"/>
<rect x="384.0" y="62.00" width="20.0" height="39.70" fill="#0040ff"/>
<rect x="384.0" y="101.40" width="20.0" height="6.60" fill="#0050ff"/>
<rect x="384.0" y="107.70" width="20.0" height="2.40" fill="#0060ff"/>
<rect x="384.0" y="109.80" width="20.0" height="2.40" fill="#0070ff"/>
<rect x="384.0" y="111.90" width="20.0" height="2.40" fill="#0080ff"/>
<rect x="384.0" y="114.00" width="20.0" height="4.50" fill="#00afff"/>
<rect x="384.0" y="118.20" width="20.0" height="33.90" fill="#00bfff"/>
<rect x="384.0" y="151.80" width="20.0" height="5.55" fill="#00afff"/>
<rect x="384.0" y="157.05" width="20.0" height="10.80" fill="#009fff"/>
<rect x="384.0" y="167.55" width="20.0" height="5.55" fill="#008fff"/>
<rect x="384.0" y="172.80" width="20.0" height="5.55" fill="#0080ff"/>
<rect x="384.0" y="178.05" width="20.0" height="10.80" fill="#0070ff"/>
<rect x="384.0" y="188.55" width="20.0" height="26.55" fill="#0060ff"/>
<rect x="384.0" y="214.80" width="20.0" height="110.55" fill="#0050ff"/>
<rect x="384.0" y="325.05" width="20.0" height="21.30" fill="#0060ff"/>
<rect x="384.0" y="346.05" width="20.0" height="42.30" fill="#0070ff"/>
<rect x="384.0" y="388.05" width="20.0" height="21.30" fill="#0060ff"/>
<rect x="384.0" y="409.05" width="20.0" height="21.30" fill="#0050ff"/>
<rect x="384.0" y="430.05" width="20.0" height="21.30" fill="#0040ff"/>
<rect x="384.0" y="451.05" width="20.0" height="21.30" fill="#0030ff"/>
<rect x="384.0" y="472.05" width="20.0" height="9.25" fill="#0020ff"/>
<rect x="404.0" y="62.00" width="19.0" height="4.00" fill="#0040ff"/>
<rect x="404.0" y="65.70" width="19.0" height="2.40" fill="#0050ff"/>
<rect x="404.0" y="67.80" width="19.0" height="2.40" fill="#0060ff"/>
<rect x="404.0" y="69.90" width="19.0" height="6.60" fill="#0070ff"/>
<rect x="404.0" y="76.20" width="19.0" height="2.40" fill="#00dfff"/>
<rect x="404.0" y="78.30" width="19.0" height="4.50" fill="#008fff"/>
<rect x="404.0" y="82.50" width="19.0" height="2.40" fill="#0080ff"/>
<rect x="404.0" y="84.60" width="19.0" height="4.50" fill="#0070ff"/>
<rect x="404.0" y="88.80" width="19.0" height="15.00" fill="#0060ff"/>
<rect x="404.0" y="103.50" width="19.0" height="4.50" fill="#0070ff"/>
<rect x="404.0" y="107.70" width="19.0" height="2.40" fill="#0080ff"/>
<rect x="404.0" y="109.80" width="19.0" height="4.50" fill="#008fff"/>
<rect x="404.0" y="114.00" width="19.0" height="11.85" fill="#00bfff"/>
<rect x="404.0" y="125.55" width="19.0" height="5.55" fill="#00ffff"/>
<rect x="404.0" y="130.80" width="19.0" height="5.55" fill="#00bfff"/>
<rect x="404.0" y="136.05" width="19.0" height="5.55" fill="#00afff"/>
<rect x="404.0" y="141.30" width="19.0" height="21.30" fill="#009fff"/>
<rect x="404.0" y="162.30" width="19.0" height="16.05" fill="#008fff"/>
<rect x="404.0" y="178.05" width="19.0" height="10.80" fill="#0080ff"/>
<rect x="404.0" y="188.55" width="19.0" height="5.55" fill="#0070ff"/>
<rect x="404.0" y="193.80" width="19.0" height="21.30" fill="#0060ff"/>
<rect x="404.0" y="214.80" width="19.0" height="26.55" fill="#0050ff"/>
<rect x="404.0" y="241.05" width="19.0" height="52.80" fill="#0040ff"/>
<rect x="404.0" y="293.55" width="19.0" height="42.30" fill="#0050ff"/>
<rect x="404.0" y="335.55" width="19.0" height="10.80" fill="#0060ff"/>
<rect x="404.0" y="346.05" width="19.0" height="31.80" fill="#0070ff"/>
<rect x="404.0" y="377.55" width="19.0" height="21.30" fill="#0060ff"/>
<rect x="404.0" y="398.55" width="19.0" height="21.30" fill="#0050ff"/>
<rect x="404.0" y="419.55" width="19.0" height="21.30" fill="#0040ff"/>
<rect x="404.0" y="440.55" width="19.0" height="31.80" fill="#0030ff"/>
<rect x="404.0" y="472.05" width="19.0" height="9.25" fill="#0020ff"/>
<rect x="423.0" y="62.00" width="19.0" height="4.00" fill="#0000bf"/>
<rect x="423.0" y="65.70" width="19.0" height="17.10" fill="#0050ff"/>
<rect x="423.0" y="82.50" width="19.0" height="48.60" fill="#0040ff"/>
<rect x="423.0" y="130.80" width="19.0" height="5.55" fill="#0060ff"/>
<rect x="423.0" y="136.05" width="19.0" height="5.55" fill="#0070ff"/>
<rect x="423.0" y="141.30" width="19.0" height="5.55" fill="#0080ff"/>
<rect x="423.0" y="146.55" width="19.0" height="26.55" fill="#008fff"/>
<rect x="423.0" y="172.80" width="19.0" height="5.55" fill="#0070ff"/>
<rect x="423.0" y="178.05" width="19.0" height="5.55" fill="#0080ff"/>
<rect x="423.0" y="183.30" width="19.0" height="5.55" fill="#008fff"/>
<rect x="423.0" y="188.55" width="19.0" height="16.05" fill="#009fff"/>
<rect x="423.0" y="204.30" width="19.0" height="10.80" fill="#008fff"/>
<rect x="423.0" y="214.80" width="19.0" height="10.80" fill="#0060ff"/>
<rect x="423.0" y="225.30" width="19.0" height="26.55" fill="#0050ff"/>
<rect x="423.0" y="251.55" width="19.0" height="31.80" fill="#0040ff"/>
<rect x="423.0" y="283.05" width="19.0" height="42.30" fill="#0050ff"/>
<rect x="423.0" y="325.05" width="19.0" height="10.80" fill="#0060ff"/>
<rect x="423.0" y="335.55" width="19.0" height="42.30" fill="#0070ff"/>
<rect x="423.0" y="377.55" width="19.0" height="10.80" fill="#0060ff"/>
<rect x="423.0" y="388.05" width="19.0" height="21.30" fill="#0050ff"/>
<rect x="423.0" y="409.05" width="19.0" height="21.30" fill="#0040ff"/>
<rect x="423.0" y="430.05" width="19.0" height="21.30" fill="#0030ff"/>
<rect x="423.0" y="451.05" width="19.0" height="30.25" fill="#0020ff"/>
<rect x="442.0" y="62.00" width="19.0" height="10.30" fill="#00009f"/>
<rect x="442.0" y="72.00" width="19.0" height="4.50" fill="#0000df"/>
<rect x="442.0" y="76.20" width="19.0" height="6.60" fill="#0070ff"/>
<rect x="442.0" y="82.50" width="19.0" height="4.50" fill="#00bfff"/>
<rect x="442.0" y="86.70" width="19.0" height="2.40" fill="#00afff"/>
<rect x="442.0" y="88.80" width="19.0" height="2.40" fill="#009fff"/>
<rect x="442.0" y="90.90" width="19.0" height="4.50" fill="#008fff"/>
<rect x="442.0" y="95.10" width="19.0" height="2.40" fill="#0080ff"/>
<rect x="442.0" y="97.20" width="19.0" height="2.40" fill="#0070ff"/>
<rect x="442.0" y="99.30" width="19.0" height="4.50" fill="#0080ff"/>
<rect x="442.0" y="103.50" width="19.0" height="6.60" fill="#008fff"/>
<rect x="442.0" y="109.80" width="19.0" height="10.80" fill="#00dfff"/>
<rect x="442.0" y="120.30" width="19.0" height="5.55" fill="#00afff"/>
<rect x="442.0" y="125.55" width="19.0" height="5.55" fill="#10ffef"/>
<rect x="442.0" y="130.80" width="19.0" height="16.05" fill="#00ffff"/>
<rect x="442.0" y="146.55" width="19.0" height="5.55" fill="#00efff"/>
<rect x="442.0" y="151.80" width="19.0" height="10.80" fill="#00dfff"/>
<rect x="442.0" y="162.30" width="19.0" height="10.80" fill="#00cfff"/>
<rect x="442.0" y="172.80" width="19.0" height="10.80" fill="#00bfff"/>
<rect x="442.0" y="183.30" width="19.0" height="10.80" fill="#00afff"/>
<rect x="442.0" y="193.80" width="19.0" height="26.55" fill="#009fff"/>
<rect x="442.0" y="220.05" width="19.0" height="21.30" fill="#008fff"/>
<rect x="442.0" y="241.05" width="19.0" height="16.05" fill="#0080ff"/>
<rect x="442.0" y="256.80" width="19.0" height="89.55" fill="#0070ff"/>
<rect x="442.0" y="346.05" width="19.0" height="10.80" fill="#0060ff"/>
<rect x="442.0" y="356.55" width="19.0" height="31.80" fill="#0040ff"/>
<rect x="442.0" y="388.05" width="19.0" height="21.30" fill="#0020ff"/>
<rect x="442.0" y="409.05" width="19.0" height="52.80" fill="#0010ff"/>
<rect x="442.0" y="461.55" width="19.0" height="19.75" fill="#0000ff"/>
<rect x="461.0" y="62.00" width="19.0" height="4.00" fill="#0050ff"/>
<rect x="461.0" y="65.70" width="19.0" height="2.40" fill="#0060ff"/>
<rect x="461.0" y="67.80" width="19.0" height="4.50" fill="#0070ff"/>
<rect x="461.0" y="72.00" width="19.0" height="4.50" fill="#0080ff"/>
<rect x="461.0" y="76.20" width="19.0" height="4.50" fill="#0070ff"/>
<rect x="461.0" y="80.40" width="19.0" height="2.40" fill="#0060ff"/>
<rect x="461.0" y="82.50" width="19.0" height="8.70" fill="#0050ff"/>
<rect x="461.0" y="90.90" width="19.0" height="4.50" fill="#0020ff"/>
<rect x="461.0" y="95.10" width="19.0" height="21.30" fill="#0030ff"/>
<rect x="461.0" y="116.10" width="19.0" height="15.00" fill="#0040ff"/>
<rect x="461.0" y="130.80" width="19.0" height="5.55" fill="#0080ff"/>
<rect x="461.0" y="136.05" width="19.0" height="5.55" fill="#009fff"/>
<rect x="461.0" y="141.30" width="19.0" height="5.55" fill="#00afff"/>
<rect x="461.0" y="146.55" width="19.0" height="5.55" fill="#00bfff"/>
<rect x="461.0" y="151.80" width="19.0" height="16.05" fill="#00cfff"/>
<rect x="461.0" y="167.55" width="19.0" height="16.05" fill="#00bfff"/>
<rect x="461.0" y="183.30" width="19.0" height="10.80" fill="#00afff"/>
<rect x="461.0" y="193.80" width="19.0" height="16.05" fill="#009fff"/>
<rect x="461.0" y="209.55" width="19.0" height="21.30" fill="#008fff"/>
<rect x="461.0" y="230.55" width="19.0" height="16.05" fill="#0080ff"/>
<rect x="461.0" y="246.30" width="19.0" height="37.05" fill="#0070ff"/>
<rect x="461.0" y="283.05" width="19.0" height="10.80" fill="#0060ff"/>
<rect x="461.0" y="293.55" width="19.0" height="10.80" fill="#0050ff"/>
<rect x="461.0" y="304.05" width="19.0" height="10.80" fill="#0060ff"/>
<rect x="461.0" y="314.55" width="19.0" height="42.30" fill="#0070ff"/>
<rect x="461.0" y="356.55" width="19.0" height="21.30" fill="#0060ff"/>
<rect x="461.0" y="377.55" width="19.0" height="10.80" fill="#0050ff"/>
<rect x="461.0" y="388.05" width="19.0" height="21.30" fill="#0040ff"/>
<rect x="461.0" y="409.05" width="19.0" height="21.30" fill="#0030ff"/>
<rect x="461.0" y="430.05" width="19.0" height="31.80" fill="#0020ff"/>
<rect x="461.0" y="461.55" width="19.0" height="19.75" fill="#0010ff"/>
<rect x="480.0" y="62.00" width="19.0" height="12.40" fill="#0060ff"/>
<rect x="480.0" y="74.10" width="19.0" height="12.90" fill="#0050ff"/>
<rect x="480.0" y="86.70" width="19.0" height="4.50" fill="#0040ff"/>
<rect x="480.0" y="90.90" width="19.0" height="2.40" fill="#0050ff"/>
<rect x="480.0" y="93.00" width="19.0" height="2.40" fill="#0060ff"/>
<rect x="480.0" y="95.10" width="19.0" height="2.40" fill="#0070ff"/>
<rect x="480.0" y="97.20" width="19.0" height="2.40" fill="#0060ff"/>
<rect x="480.0" y="99.30" width="19.0" height="4.50" fill="#0050ff"/>
<rect x="480.0" y="103.50" width="19.0" height="48.60" fill="#0040ff"/>
<rect x="480.0" y="151.80" width="19.0" height="5.55" fill="#0050ff"/>
<rect x="480.0" y="157.05" width="19.0" height="5.55" fill="#0060ff"/>
<rect x="480.0" y="162.30" width="19.0" height="5.55" fill="#0070ff"/>
<rect x="480.0" y="167.55" width="19.0" height="5.55" fill="#0080ff"/>
<rect x="480.0" y="172.80" width="19.0" height="10.80" fill="#009fff"/>
<rect x="480.0" y="183.30" width="19.0" height="26.55" fill="#00cfff"/>
<rect x="480.0" y="209.55" width="19.0" height="10.80" fill="#00bfff"/>
<rect x="480.0" y="220.05" width="19.0" height="10.80" fill="#00afff"/>
<rect x="480.0" y="230.55" width="19.0" height="5.55" fill="#009fff"/>
<rect x="480.0" y="235.80" width="19.0" height="16.05" fill="#008fff"/>
<rect x="480.0" y="251.55" width="19.0" height="16.05" fill="#0080ff"/>
<rect x="480.0" y="267.30" width="19.0" height="16.05" fill="#0070ff"/>
<rect x="480.0" y="283.05" width="19.0" height="31.80" fill="#0060ff"/>
<rect x="480.0" y="314.55" width="19.0" height="31.80" fill="#0070ff"/>
<rect x="480.0" y="346.05" width="19.0" height="10.80" fill="#0080ff"/>
<rect x="480.0" y="356.55" width="19.0" height="21.30" fill="#0070ff"/>
<rect x="480.0" y="377.55" width="19.0" height="10.80" fill="#0060ff"/>
<rect x="480.0" y="388.05" width="19.0" height="21.30" fill="#0040ff"/>
<rect x="480.0" y="409.05" width="19.0" height="31.80" fill="#0030ff"/>
<rect x="480.0" y="440.55" width="19.0" height="21.30" fill="#0020ff"/>
<rect x="480.0" y="461.55" width="19.0" height="19.75" fill="#0010ff"/>
<rect x="499.0" y="62.00" width="21.0" height="37.60" fill="#0060ff"/>
<rect x="499.0" y="99.30" width="21.0" height="6.60" fill="#0070ff"/>
<rect x="499.0" y="105.60" width="21.0" height="20.25" fill="#0080ff"/>
<rect x="499.0" y="125.55" width="21.0" height="5.55" fill="#009fff"/>
<rect x="499.0" y="130.80" width="21.0" height="5.55" fill="#00afff"/>
<rect x="499.0" y="136.05" width="21.0" height="5.55" fill="#00bfff"/>
<rect x="499.0" y="141.30" width="21.0" height="21.30" fill="#00afff"/>
<rect x="499.0" y="162.30" width="21.0" height="5.55" fill="#009fff"/>
<rect x="499.0" y="167.55" width="21.0" height="5.55" fill="#008fff"/>
<rect x="499.0" y="172.80" width="21.0" height="16.05" fill="#009fff"/>
<rect x="499.0" y="188.55" width="21.0" height="10.80" fill="#00afff"/>
<rect x="499.0" y="199.05" width="21.0" height="16.05" fill="#009fff"/>
<rect x="499.0" y="214.80" width="21.0" height="26.55" fill="#008fff"/>
<rect x="499.0" y="241.05" width="21.0" height="5.55" fill="#0080ff"/>
<rect x="499.0" y="246.30" width="21.0" height="26.55" fill="#0070ff"/>
<rect x="499.0" y="272.55" width="21.0" height="31.80" fill="#0060ff"/>
<rect x="499.0" y="304.05" width="21.0" height="42.30" fill="#0070ff"/>
<rect x="499.0" y="346.05" width="21.0" height="10.80" fill="#0060ff"/>
<rect x="499.0" y="356.55" width="21.0" height="10.80" fill="#0050ff"/>
<rect x="499.0" y="367.05" width="21.0" height="21.30" fill="#0040ff"/>
<rect x="499.0" y="388.05" width="21.0" height="21.30" fill="#0030ff"/>
<rect x="499.0" y="409.05" width="21.0" height="21.30" fill="#0020ff"/>
<rect x="499.0" y="430.05" width="21.0" height="21.30" fill="#0010ff"/>
<rect x="499.0" y="451.05" width="21.0" height="30.25" fill="#0000ff"/>
<rect x="499" y="478.5" width="21" height="2.5" fill="#fff"/>
</g>
<clipPath id="ax"><rect x="60" y="62" width="460" height="419"/></clipPath>
<g clip-path="url(#ax)">
<polyline points="59.8,170.5 68.5,170.5 69.7,174.0 77.7,212.3 88.2,212.3 96.8,183.4 106.6,183.4 116.5,174.4 126.3,174.4 135.5,205.5 145.0,205.5 154.3,181.5 164.2,181.5 173.4,186.2 183.8,186.2 189.4,175.4 193.0,168.2 203.5,168.2 211.0,164.3 221.7,164.3 231.5,141.5 241.4,141.5 250.6,157.2 260.5,157.2 266.0,155.4 279.5,155.0 288.5,149.3 298.3,149.0 302.6,136.0 306.3,130.6 306.9,113.4 319.8,112.2 325.4,105.4 340.2,106.0 342.0,112.2 340.2,115.8 346.3,130.6 346.9,136.8 366.0,135.5 376.5,135.0 378.0,124.5 378.0,117.0 376.8,111.0 376.2,104.2 364.8,104.2 359.8,101.0 357.4,98.0 325.4,98.0 322.9,95.0 318.6,88.8 306.9,88.8 303.8,61.0" fill="none" stroke="#000" stroke-width="1" shape-rendering="crispEdges" /><polyline points="96.0,67.5 99.0,66.5 112.0,66.5 114.5,68.0 114.0,70.0 109.0,72.0 97.0,72.3 96.0,70.5 96.0,67.5" fill="none" stroke="#000" stroke-width="1" shape-rendering="crispEdges" /><polyline points="127.5,61.0 128.0,65.2 131.0,65.5 132.0,66.5 146.0,66.6 148.2,69.5 152.5,70.0 155.2,73.3 166.5,73.6 174.0,72.3 188.0,72.7 192.4,70.6 207.5,70.0 210.2,68.5 210.5,61.0" fill="none" stroke="#000" stroke-width="1" shape-rendering="crispEdges" />
<g shape-rendering="crispEdges"><rect x="90" y="70" width="7" height="1"/><rect x="93" y="67" width="1" height="7"/><rect x="156" y="73" width="7" height="1"/><rect x="159" y="70" width="1" height="7"/><rect x="188" y="71" width="7" height="1"/><rect x="191" y="68" width="1" height="7"/><rect x="185" y="177" width="7" height="1"/><rect x="188" y="174" width="1" height="7"/><rect x="405" y="126" width="7" height="1"/><rect x="408" y="123" width="1" height="7"/><rect x="403" y="126" width="11" height="1"/></g><text x="93.7" y="67.4" font-size="12" font-weight="bold" stroke="#000" stroke-width="0.35">6</text><text x="160.0" y="70.8" font-size="12" font-weight="bold" stroke="#000" stroke-width="0.35">6</text><text x="192.6" y="68.5" font-size="12" font-weight="bold" stroke="#000" stroke-width="0.35">6</text><text x="188.8" y="175.0" font-size="12" font-weight="bold" stroke="#000" stroke-width="0.35">4</text><text x="408.8" y="123.0" font-size="12" font-weight="bold" stroke="#000" stroke-width="0.35">4</text>
</g>
<g shape-rendering="crispEdges">
<rect x="59" y="61" width="461" height="1"/>
<rect x="59" y="481" width="461" height="1"/>
<rect x="59" y="61" width="1" height="421"/>
<rect x="59" y="56" width="1" height="5"/><rect x="78" y="56" width="1" height="5"/><rect x="97" y="56" width="1" height="5"/><rect x="116" y="56" width="1" height="5"/><rect x="135" y="56" width="1" height="5"/><rect x="154" y="56" width="1" height="5"/><rect x="174" y="56" width="1" height="5"/><rect x="193" y="56" width="1" height="5"/><rect x="212" y="56" width="1" height="5"/><rect x="231" y="56" width="1" height="5"/><rect x="250" y="56" width="1" height="5"/><rect x="269" y="56" width="1" height="5"/><rect x="289" y="56" width="1" height="5"/><rect x="308" y="56" width="1" height="5"/><rect x="327" y="56" width="1" height="5"/><rect x="346" y="56" width="1" height="5"/><rect x="365" y="56" width="1" height="5"/><rect x="384" y="56" width="1" height="5"/><rect x="404" y="56" width="1" height="5"/><rect x="423" y="56" width="1" height="5"/><rect x="442" y="56" width="1" height="5"/><rect x="461" y="56" width="1" height="5"/><rect x="480" y="56" width="1" height="5"/><rect x="499" y="56" width="1" height="5"/><rect x="519" y="56" width="1" height="5"/><rect x="231" y="476" width="1" height="5"/><rect x="423" y="476" width="1" height="5"/>
<rect x="566" y="62.00" width="41" height="6.85" fill="#800000"/>
<rect x="566" y="68.55" width="41" height="6.85" fill="#8f0000"/>
<rect x="566" y="75.09" width="41" height="6.85" fill="#9f0000"/>
<rect x="566" y="81.64" width="41" height="6.85" fill="#af0000"/>
<rect x="566" y="88.19" width="41" height="6.85" fill="#bf0000"/>
<rect x="566" y="94.73" width="41" height="6.85" fill="#cf0000"/>
<rect x="566" y="101.28" width="41" height="6.85" fill="#df0000"/>
<rect x="566" y="107.83" width="41" height="6.85" fill="#ef0000"/>
<rect x="566" y="114.38" width="41" height="6.85" fill="#ff0000"/>
<rect x="566" y="120.92" width="41" height="6.85" fill="#ff1000"/>
<rect x="566" y="127.47" width="41" height="6.85" fill="#ff2000"/>
<rect x="566" y="134.02" width="41" height="6.85" fill="#ff3000"/>
<rect x="566" y="140.56" width="41" height="6.85" fill="#ff4000"/>
<rect x="566" y="147.11" width="41" height="6.85" fill="#ff5000"/>
<rect x="566" y="153.66" width="41" height="6.85" fill="#ff6000"/>
<rect x="566" y="160.20" width="41" height="6.85" fill="#ff7000"/>
<rect x="566" y="166.75" width="41" height="6.85" fill="#ff8000"/>
<rect x="566" y="173.30" width="41" height="6.85" fill="#ff8f00"/>
<rect x="566" y="179.84" width="41" height="6.85" fill="#ff9f00"/>
<rect x="566" y="186.39" width="41" height="6.85" fill="#ffaf00"/>
<rect x="566" y="192.94" width="41" height="6.85" fill="#ffbf00"/>
<rect x="566" y="199.48" width="41" height="6.85" fill="#ffcf00"/>
<rect x="566" y="206.03" width="41" height="6.85" fill="#ffdf00"/>
<rect x="566" y="212.58" width="41" height="6.85" fill="#ffef00"/>
<rect x="566" y="219.12" width="41" height="6.85" fill="#ffff00"/>
<rect x="566" y="225.67" width="41" height="6.85" fill="#efff10"/>
<rect x="566" y="232.22" width="41" height="6.85" fill="#dfff20"/>
<rect x="566" y="238.77" width="41" height="6.85" fill="#cfff30"/>
<rect x="566" y="245.31" width="41" height="6.85" fill="#bfff40"/>
<rect x="566" y="251.86" width="41" height="6.85" fill="#afff50"/>
<rect x="566" y="258.41" width="41" height="6.85" fill="#9fff60"/>
<rect x="566" y="264.95" width="41" height="6.85" fill="#8fff70"/>
<rect x="566" y="271.50" width="41" height="6.85" fill="#80ff80"/>
<rect x="566" y="278.05" width="41" height="6.85" fill="#70ff8f"/>
<rect x="566" y="284.59" width="41" height="6.85" fill="#60ff9f"/>
<rect x="566" y="291.14" width="41" height="6.85" fill="#50ffaf"/>
<rect x="566" y="297.69" width="41" height="6.85" fill="#40ffbf"/>
<rect x="566" y="304.23" width="41" height="6.85" fill="#30ffcf"/>
<rect x="566" y="310.78" width="41" height="6.85" fill="#20ffdf"/>
<rect x="566" y="317.33" width="41" height="6.85" fill="#10ffef"/>
<rect x="566" y="323.88" width="41" height="6.85" fill="#00ffff"/>
<rect x="566" y="330.42" width="41" height="6.85" fill="#00efff"/>
<rect x="566" y="336.97" width="41" height="6.85" fill="#00dfff"/>
<rect x="566" y="343.52" width="41" height="6.85" fill="#00cfff"/>
<rect x="566" y="350.06" width="41" height="6.85" fill="#00bfff"/>
<rect x="566" y="356.61" width="41" height="6.85" fill="#00afff"/>
<rect x="566" y="363.16" width="41" height="6.85" fill="#009fff"/>
<rect x="566" y="369.70" width="41" height="6.85" fill="#008fff"/>
<rect x="566" y="376.25" width="41" height="6.85" fill="#0080ff"/>
<rect x="566" y="382.80" width="41" height="6.85" fill="#0070ff"/>
<rect x="566" y="389.34" width="41" height="6.85" fill="#0060ff"/>
<rect x="566" y="395.89" width="41" height="6.85" fill="#0050ff"/>
<rect x="566" y="402.44" width="41" height="6.85" fill="#0040ff"/>
<rect x="566" y="408.98" width="41" height="6.85" fill="#0030ff"/>
<rect x="566" y="415.53" width="41" height="6.85" fill="#0020ff"/>
<rect x="566" y="422.08" width="41" height="6.85" fill="#0010ff"/>
<rect x="566" y="428.62" width="41" height="6.85" fill="#0000ff"/>
<rect x="566" y="435.17" width="41" height="6.85" fill="#0000ef"/>
<rect x="566" y="441.72" width="41" height="6.85" fill="#0000df"/>
<rect x="566" y="448.27" width="41" height="6.85" fill="#0000cf"/>
<rect x="566" y="454.81" width="41" height="6.85" fill="#0000bf"/>
<rect x="566" y="461.36" width="41" height="6.85" fill="#0000af"/>
<rect x="566" y="467.91" width="41" height="6.85" fill="#00009f"/>
<rect x="566" y="474.45" width="41" height="6.85" fill="#00008f"/>
<rect x="565" y="61" width="43" height="1"/><rect x="565" y="481" width="43" height="1"/>
<rect x="565" y="61" width="1" height="421"/><rect x="607" y="61" width="1" height="421"/>
<rect x="566" y="129" width="5" height="1"/><rect x="602" y="129" width="5" height="1"/>
<rect x="566" y="327" width="5" height="1"/><rect x="602" y="327" width="5" height="1"/>
</g>
<text class="b" x="289" y="39" text-anchor="middle" font-size="16.6" textLength="231" lengthAdjust="spacingAndGlyphs">Temperature / Température</text>
<text x="55.6" y="65.9" text-anchor="end" font-size="14.2" textLength="7.7" lengthAdjust="spacingAndGlyphs">0</text><text x="55.6" y="107.9" text-anchor="end" font-size="14.2" textLength="23.1" lengthAdjust="spacingAndGlyphs">200</text><text x="55.6" y="149.9" text-anchor="end" font-size="14.2" textLength="23.1" lengthAdjust="spacingAndGlyphs">400</text><text x="55.6" y="191.9" text-anchor="end" font-size="14.2" textLength="23.1" lengthAdjust="spacingAndGlyphs">600</text><text x="55.6" y="233.9" text-anchor="end" font-size="14.2" textLength="23.1" lengthAdjust="spacingAndGlyphs">800</text><text x="55.6" y="275.9" text-anchor="end" font-size="14.2" textLength="30.8" lengthAdjust="spacingAndGlyphs">1000</text><text x="55.6" y="317.9" text-anchor="end" font-size="14.2" textLength="30.8" lengthAdjust="spacingAndGlyphs">1200</text><text x="55.6" y="359.9" text-anchor="end" font-size="14.2" textLength="30.8" lengthAdjust="spacingAndGlyphs">1400</text><text x="55.6" y="401.9" text-anchor="end" font-size="14.2" textLength="30.8" lengthAdjust="spacingAndGlyphs">1600</text><text x="55.6" y="443.9" text-anchor="end" font-size="14.2" textLength="30.8" lengthAdjust="spacingAndGlyphs">1800</text><text x="55.6" y="485.9" text-anchor="end" font-size="14.2" textLength="30.8" lengthAdjust="spacingAndGlyphs">2000</text>
<text x="59" y="496.8" text-anchor="middle" font-size="14.2" textLength="7.5" lengthAdjust="spacingAndGlyphs">1</text>
<text x="232" y="496.8" text-anchor="middle" font-size="14.2" textLength="15" lengthAdjust="spacingAndGlyphs">10</text>
<text x="423.5" y="496.8" text-anchor="middle" font-size="14.2" textLength="15" lengthAdjust="spacingAndGlyphs">20</text>
<text class="b" x="289" y="513" text-anchor="middle" font-size="16" textLength="53.5" lengthAdjust="spacingAndGlyphs">Station</text>
<text class="b" transform="translate(20,269) rotate(-90)" text-anchor="middle" font-size="16" textLength="198" lengthAdjust="spacingAndGlyphs">Pressure / Pression (dbar)</text>
<text x="588.3" y="50.5" text-anchor="middle" font-size="10.7">°C</text>
<text x="611.8" y="134.4" font-size="14.2" textLength="7.5" lengthAdjust="spacingAndGlyphs">6</text>
<text x="611.8" y="332.3" font-size="14.2" textLength="7.5" lengthAdjust="spacingAndGlyphs">4</text>
<text class="b" x="64" y="547.6" font-size="14" textLength="167.6" lengthAdjust="spacingAndGlyphs">Float/Profileur dérivant:</text>
<text x="239.5" y="547.5" font-size="14" textLength="56.7" lengthAdjust="spacingAndGlyphs">4900129</text>
<text class="b" x="64" y="567" font-size="14" textLength="111.5" lengthAdjust="spacingAndGlyphs">Period/Période:</text>
<text x="181.8" y="567" font-size="14" textLength="73.2" lengthAdjust="spacingAndGlyphs">07/18/2002</text>
<text x="263.7" y="567" font-size="14" textLength="25.6" lengthAdjust="spacingAndGlyphs">to/à</text>
<text x="298.6" y="567" font-size="14" textLength="73.4" lengthAdjust="spacingAndGlyphs">03/15/2003</text>
<text x="64" y="586" font-size="10" textLength="283" lengthAdjust="spacingAndGlyphs">Tick marks at top indicate stations with delayed mode data</text>
<text x="64" y="605.8" font-size="10" textLength="288.2" lengthAdjust="spacingAndGlyphs">Traits de l'axe supérieur indiquent données en mode différé</text>
<text x="438.6" y="626.4" font-size="10.3" textLength="66.8" lengthAdjust="spacingAndGlyphs">MEDS/SDMM</text>
<text x="514.4" y="626.4" font-size="10.3" textLength="40.5" lengthAdjust="spacingAndGlyphs">12/22/04</text>
</svg>
</body></html>
